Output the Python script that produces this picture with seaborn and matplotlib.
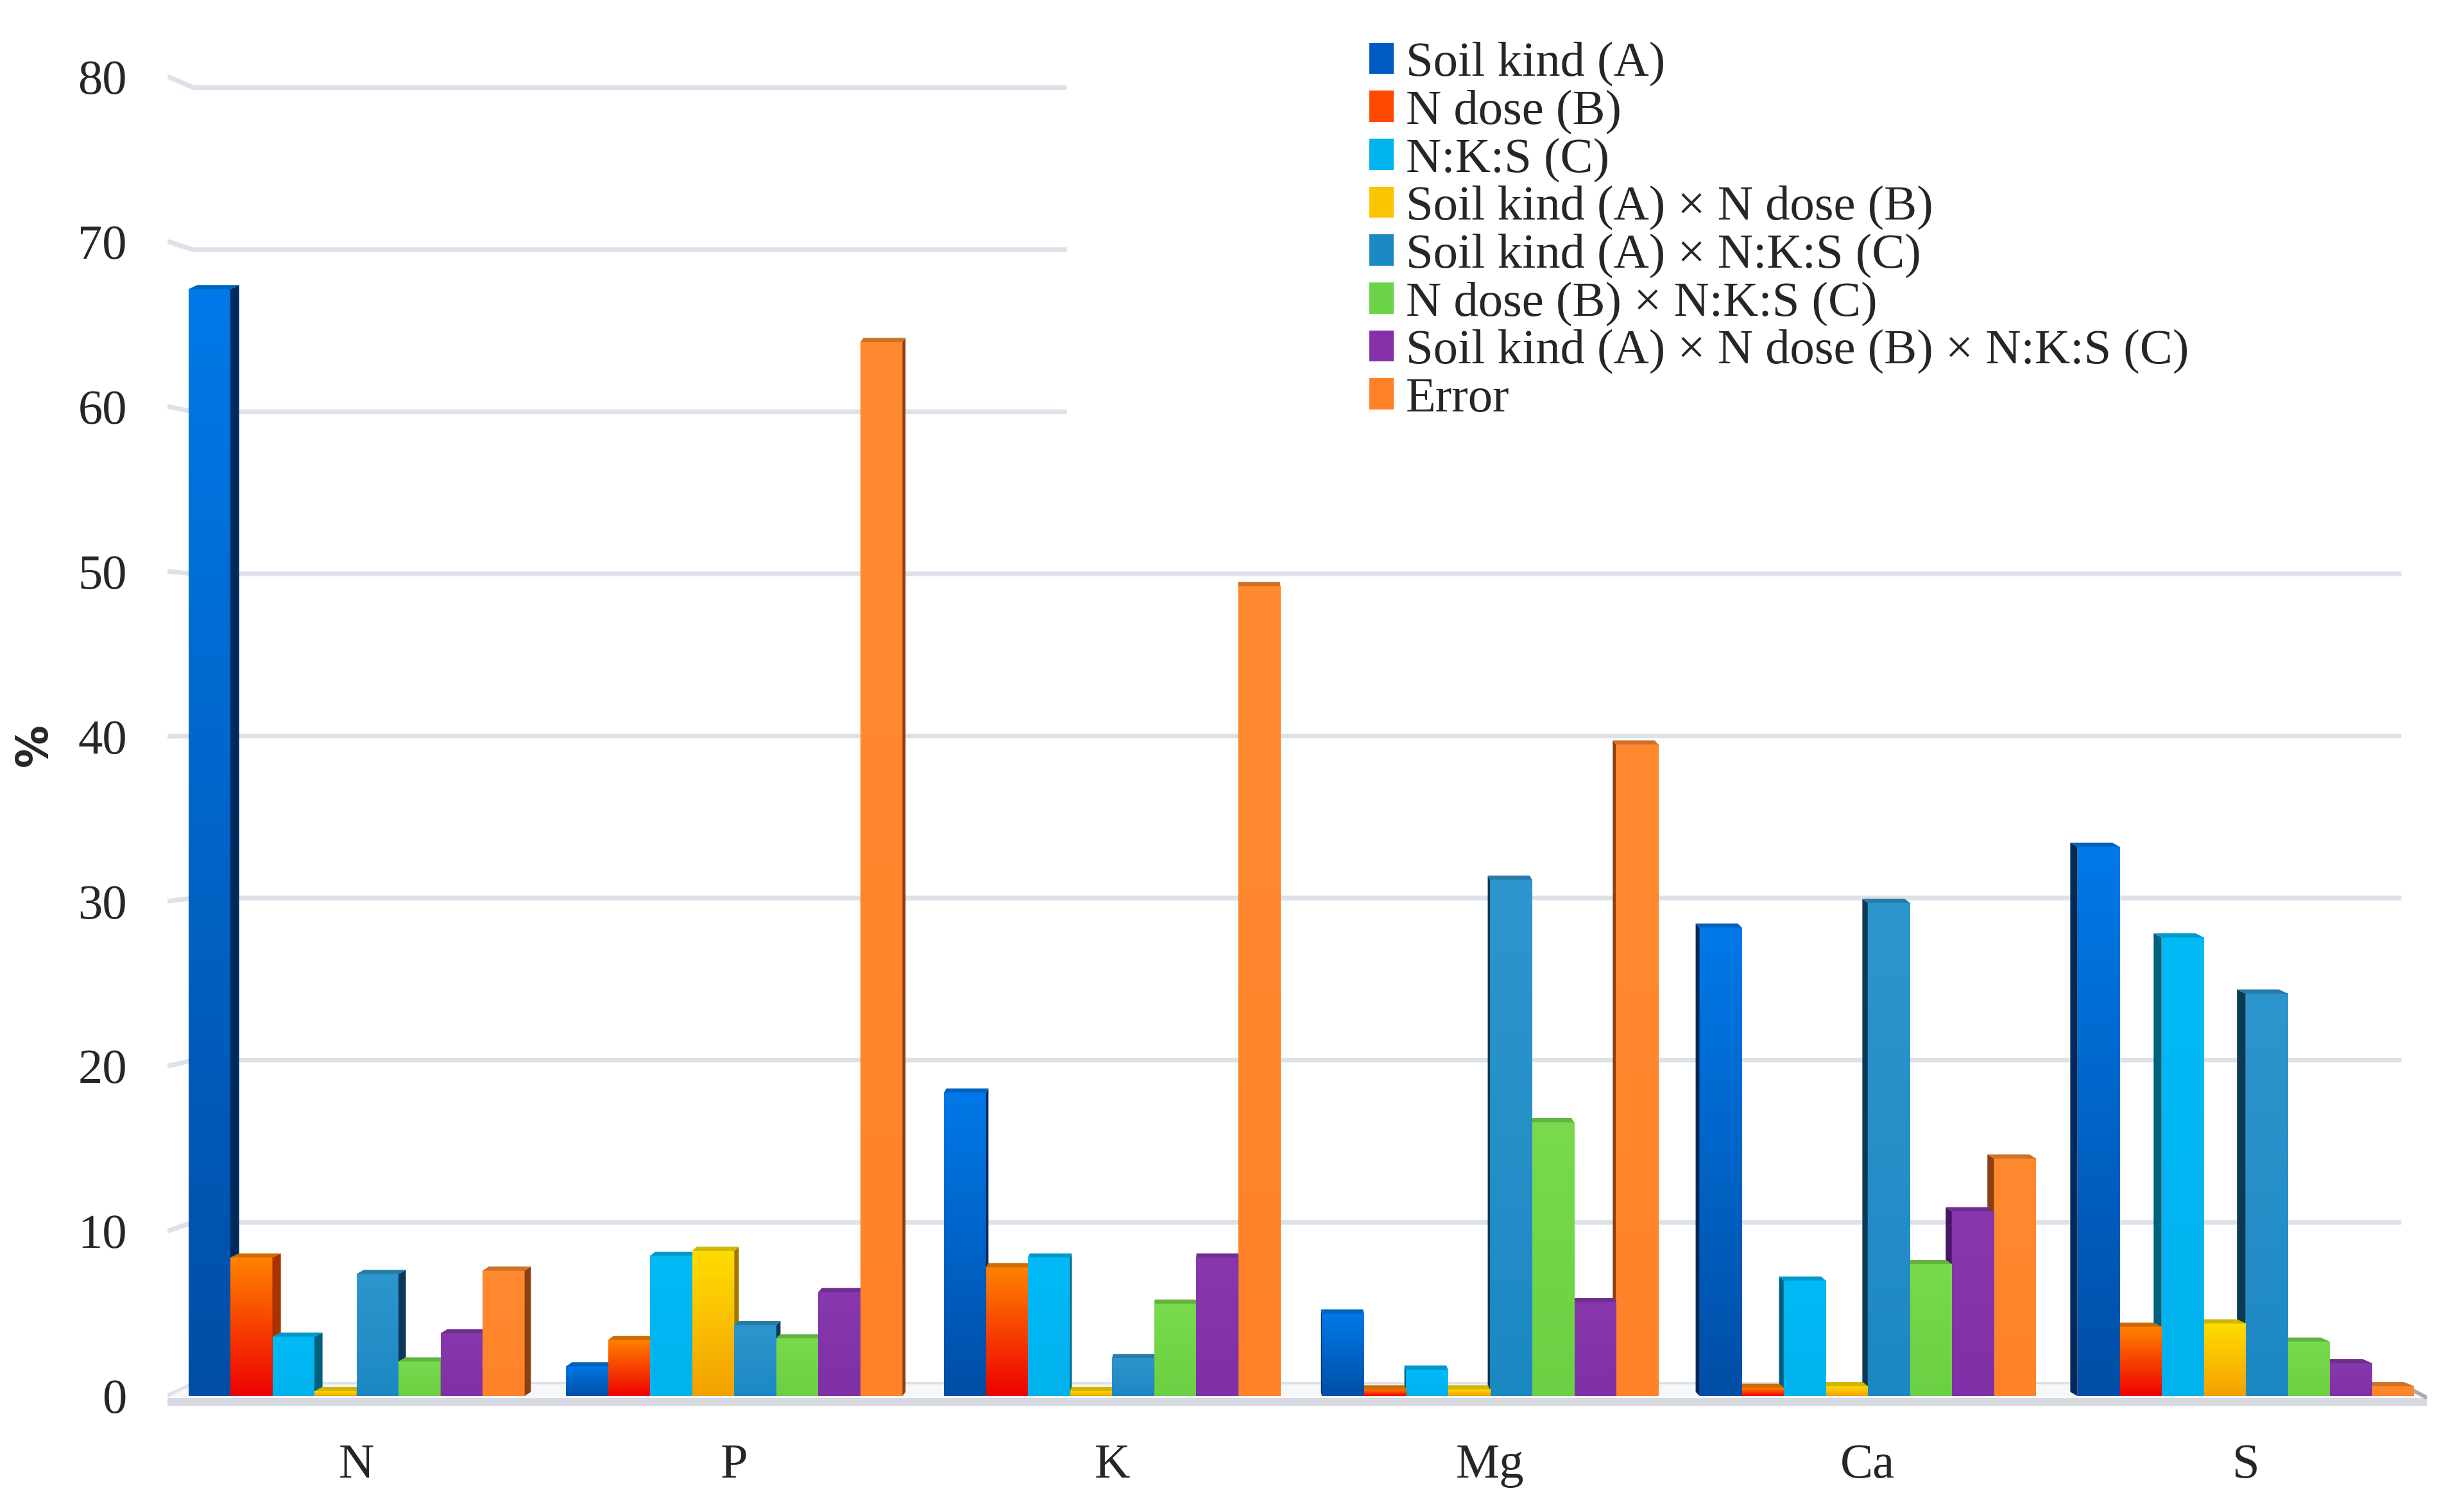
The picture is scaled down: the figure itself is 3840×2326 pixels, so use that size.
import numpy as np
import pandas as pd
import matplotlib
matplotlib.use("Agg")
import matplotlib.pyplot as plt
import seaborn as sns
from matplotlib.colors import LinearSegmentedColormap, to_rgb
from matplotlib.patches import Polygon, Patch

# Data (share of variance, %)
elements = ["N", "P", "K", "Mg", "Ca", "S"]
sources = ["Soil kind (A)", "N dose (B)", "N:K:S (C)", "Soil kind (A) × N dose (B)",
           "Soil kind (A) × N:K:S (C)", "N dose (B) × N:K:S (C)",
           "Soil kind (A) × N dose (B) × N:K:S (C)", "Error"]
soil_kind = [67.1, 1.8, 18.4, 5.0, 28.4, 33.3]
n_dose = [8.4, 3.4, 7.8, 0.4, 0.5, 4.2]
nks = [3.6, 8.5, 8.4, 1.6, 7.0, 27.8]
a_x_b = [0.3, 8.8, 0.3, 0.4, 0.6, 4.4]
a_x_c = [7.4, 4.3, 2.3, 31.3, 29.9, 24.4]
b_x_c = [2.1, 3.5, 5.6, 16.6, 8.0, 3.3]
a_x_b_x_c = [3.8, 6.3, 8.4, 5.7, 11.2, 2.0]
error = [7.6, 63.9, 49.1, 39.5, 14.4, 0.6]
values = [soil_kind, n_dose, nks, a_x_b, a_x_c, b_x_c, a_x_b_x_c, error]

top_colors = ["#0079E8", "#FF8200", "#00BAF6", "#FFDD00", "#2E96CE", "#78DA4C", "#8838AC", "#FF8A30"]
bottom_colors = ["#004EA6", "#EE0000", "#00B2EE", "#F3A000", "#1C88C2", "#6CD044", "#8030A6", "#FF8228"]
side_colors = ["#002A5C", "#A83200", "#00607F", "#A07800", "#0B3A58", "#3D8A22", "#4A1568", "#8C3F10"]
legend_colors = ["#005CC2", "#FF4A00", "#00B4F0", "#FAC400", "#1B8AC4", "#6CD44A", "#8530A8", "#FF8229"]

rows = []
for src, vals in zip(sources, values):
    for el, v in zip(elements, vals):
        rows.append({"element": el, "source": src, "value": v})
df = pd.DataFrame(rows)

sns.set_style("white")
plt.rcParams["font.family"] = ["Liberation Serif", "DejaVu Serif"]

fig = plt.figure(figsize=(16, 9.6917), dpi=240)
ax = fig.add_axes([0.068, 0.0561, 0.917, 0.9148])

sns.barplot(data=df, x="element", y="value", hue="source", order=elements, hue_order=sources,
            palette=dict(zip(sources, bottom_colors)), width=0.89, gap=0, saturation=1,
            errorbar=None, legend=False, ax=ax)

# pseudo 3D: gradient front, side face toward vanishing point, thin top face
vc = 2.35
dy = 0.25
grad = np.linspace(0, 1, 256).reshape(-1, 1)
for hi, cont in enumerate(ax.containers):
    cmap = LinearSegmentedColormap.from_list("g%d" % hi, [bottom_colors[hi], top_colors[hi]])
    top_face = tuple(c * 0.82 for c in to_rgb(top_colors[hi]))
    for bar in cont:
        x0 = bar.get_x()
        w = bar.get_width()
        h = bar.get_height()
        xc = x0 + w / 2
        dx = 0.0085 * (vc - xc)
        z = 3 + 0.1 * (hi if dx >= 0 else 7 - hi)
        bar.set_zorder(z)
        bar.set_edgecolor("none")
        ax.imshow(grad, extent=(x0, x0 + w, 0, h), cmap=cmap, aspect="auto",
                  origin="lower", zorder=z + 0.01, interpolation="bilinear")
        edge = x0 + w if dx >= 0 else x0
        ax.add_patch(Polygon([(edge, 0), (edge, h), (edge + dx, h + dy), (edge + dx, dy)],
                             closed=True, fc=side_colors[hi], ec="none", zorder=z + 0.02))
        ax.add_patch(Polygon([(x0, h), (x0 + w, h), (x0 + w + dx, h + dy), (x0 + dx, h + dy)],
                             closed=True, fc=top_face, ec="none", zorder=z + 0.02))

# back wall grid and floor
xl, xr = -0.5, 5.48
d = 0.068
yticks = np.arange(0, 81, 10)
for v in yticks:
    yb = v + 0.71 - 0.0173 * v
    xend = 1.88 if v >= 60 else xr - d
    ax.plot([xl, xl + d, xend], [v, yb, yb], color="#DDE1E8", lw=2.2, zorder=1,
            solid_capstyle="butt")
ax.fill([xl, xr, xr - d, xl + d], [-0.1, -0.1, 0.71, 0.71], color="#F6F7F9", zorder=1.5, lw=0)
ax.fill_between([xl, xr], -0.6, -0.1, color="#D7DBE1", zorder=2, lw=0)
ax.plot([xr - d, xr], [0.71, -0.1], color="#A8ABB0", lw=1.8, zorder=2)

ax.set_xlim(xl, xr)
ax.set_ylim(-0.8, 82)
ax.set_yticks(yticks)
ax.set_xticks(range(len(elements)))
ax.set_xticklabels(elements)
ax.set_xlabel("")
ax.set_ylabel("")
ax.tick_params(axis="y", length=0, labelsize=23, pad=19)
ax.tick_params(axis="x", length=0, labelsize=23, pad=16)
sns.despine(ax=ax, left=True, bottom=True)

fig.text(0.0141, 0.5009, "%", rotation=90, fontsize=20, fontweight="bold",
         family="DejaVu Sans", ha="center", va="center")

handles = [Patch(facecolor=c, edgecolor="none") for c in legend_colors]
fig.legend(handles, sources, loc="upper left", bbox_to_anchor=(0.5556, 0.972), frameon=False,
           fontsize=23, handlelength=0.5, handleheight=0.6, handletextpad=0.25,
           labelspacing=0.07, borderpad=0, borderaxespad=0)

fig.savefig("out.png", dpi=240)
